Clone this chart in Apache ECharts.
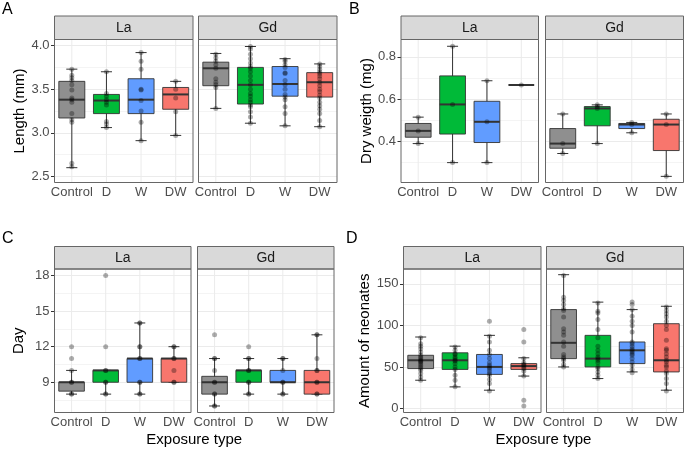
<!DOCTYPE html>
<html>
<head>
<meta charset="utf-8">
<title>Exposure type boxplots</title>
<script src="https://cdn.jsdelivr.net/npm/echarts@6/dist/echarts.min.js"></script>
<style>
  html, body { margin: 0; padding: 0; background: #fff; }
  #main { width: 685px; height: 449px; }
</style>
</head>
<body>
<div id="main"></div>
<script>
var groups = ['Control', 'D', 'W', 'DW'];
var facets = ['La', 'Gd'];
var groupColors = ['#8F8F8F', '#00BA38', '#619CFF', '#F8766D'];

// box stats per group: [min, Q1, median, Q3, max]
// A - length (mm)
var lengthLaBox = [[2.60, 3.17, 3.38, 3.59, 3.73], [3.06, 3.22, 3.37, 3.44, 3.70], [2.91, 3.22, 3.38, 3.62, 3.92], [2.97, 3.27, 3.44, 3.52, 3.59]];
var lengthGdBox = [[3.28, 3.54, 3.74, 3.81, 3.91], [3.11, 3.33, 3.55, 3.75, 3.99], [3.08, 3.42, 3.56, 3.76, 3.85], [3.07, 3.41, 3.58, 3.69, 3.79]];
var lengthLaPts = [
  [2.61, 2.65, 3.12, 3.15, 3.22, 3.35, 3.38, 3.40, 3.49, 3.55, 3.60, 3.63, 3.66, 3.73],
  [3.06, 3.10, 3.13, 3.32, 3.35, 3.38, 3.42, 3.45, 3.70],
  [2.91, 3.12, 3.25, 3.37, 3.49, 3.50, 3.73, 3.82, 3.92],
  [2.97, 3.24, 3.40, 3.50, 3.59]
];
var lengthGdPts = [
  [3.28, 3.52, 3.55, 3.58, 3.62, 3.74, 3.78, 3.82, 3.86, 3.90],
  [3.11, 3.18, 3.24, 3.30, 3.32, 3.35, 3.38, 3.42, 3.45, 3.50, 3.55, 3.60, 3.65, 3.70, 3.74, 3.76, 3.80, 3.85, 3.90, 3.96, 3.99],
  [3.08, 3.22, 3.30, 3.38, 3.41, 3.44, 3.50, 3.55, 3.60, 3.68, 3.69, 3.75, 3.78, 3.82, 3.84],
  [3.07, 3.14, 3.22, 3.27, 3.31, 3.35, 3.40, 3.43, 3.47, 3.50, 3.54, 3.58, 3.62, 3.65, 3.68, 3.70, 3.73, 3.76, 3.79]
];

// B - dry weight (mg)
var weightLaBox = [[0.39, 0.42, 0.45, 0.485, 0.515], [0.30, 0.435, 0.575, 0.71, 0.85], [0.30, 0.395, 0.493, 0.59, 0.687], [0.667, 0.667, 0.667, 0.667, 0.667]];
var weightGdBox = [[0.343, 0.368, 0.39, 0.461, 0.53], [0.39, 0.474, 0.556, 0.565, 0.573], [0.441, 0.461, 0.48, 0.485, 0.49], [0.235, 0.357, 0.48, 0.505, 0.53]];
var weightLaPts = [[0.39, 0.45, 0.515], [0.30, 0.575, 0.85], [0.30, 0.493, 0.687], [0.667]];
var weightGdPts = [[0.343, 0.39, 0.53], [0.39, 0.556, 0.565, 0.573], [0.441, 0.48, 0.49], [0.235, 0.48, 0.53]];

// C - day
var dayLaBox = [[8, 8.25, 9, 9, 10], [8, 9, 10, 10, 10], [8, 9, 11, 11, 14], [9, 9, 11, 11, 12]];
var dayGdBox = [[7, 8, 9, 9.5, 11], [8, 9, 10, 10, 11], [8, 9, 9, 10, 11], [8, 8, 9, 10, 13]];
var dayLaPts = [[8, 8, 9, 9, 10, 11, 12], [8, 8, 9, 9, 10, 10, 12, 18], [8, 8, 9, 9, 11, 11, 12, 12, 14, 14], [9, 9, 10, 11, 11, 12, 12]];
var dayGdPts = [[7, 7, 8, 8, 9, 9, 10, 11, 11, 13], [8, 8, 9, 9, 10, 10, 11, 11, 12], [8, 8, 9, 9, 10, 11, 11], [8, 8, 9, 9, 10, 10, 11, 13, 13]];

// D - amount of neonates
var neonateLaBox = [[34, 48, 58, 64, 86], [26, 47, 58, 67, 75], [22, 41, 50, 65, 88], [39, 47, 51, 54, 61]];
var neonateGdBox = [[50, 60, 79, 119, 161], [36, 50, 60, 88, 128], [44, 54, 70, 80, 119], [22, 44, 58, 102, 123]];
var neonateLaPts = [
  [34, 38, 42, 46, 48, 50, 52, 54, 56, 57, 58, 60, 62, 64, 68, 72, 75, 78, 85],
  [26, 34, 40, 47, 50, 54, 57, 58, 60, 62, 65, 66, 70, 74],
  [21, 30, 35, 40, 42, 45, 48, 50, 52, 55, 60, 65, 70, 80, 87, 105],
  [3, 10, 39, 45, 48, 50, 52, 53, 55, 60, 80, 95]
];
var neonateGdPts = [
  [50, 53, 58, 60, 62, 65, 75, 80, 88, 92, 96, 110, 118, 120, 125, 130, 134, 160],
  [36, 40, 44, 48, 50, 55, 58, 60, 62, 66, 70, 75, 85, 95, 107, 115, 117, 127],
  [43, 47, 52, 56, 60, 64, 66, 68, 70, 72, 75, 78, 80, 92, 100, 105, 111, 119, 125, 128],
  [21, 30, 36, 42, 45, 50, 52, 56, 58, 62, 66, 70, 72, 82, 95, 100, 105, 110, 114, 118, 122]
];

// panel layout (pixels) and which arrays go where
var panels = [
  { letter: 'A', yName: 'Length (mm)', min: 2.43, max: 4.07, split: 3, digits: 1, nameGap: 27,
    top: 39.5, bottom: 182.5, stripTop: 16, cols: [[54.5, 193], [198.5, 337]], letterAt: [2, 10],
    boxes: [lengthLaBox, lengthGdBox], points: [lengthLaPts, lengthGdPts] },
  { letter: 'B', yName: 'Dry weigth (mg)', min: 0.206, max: 0.882, split: 3, digits: 1, nameGap: 27,
    top: 39.5, bottom: 182.5, stripTop: 16, cols: [[401, 538.5], [545.5, 683.5]], letterAt: [349, 10],
    boxes: [weightLaBox, weightGdBox], points: [weightLaPts, weightGdPts] },
  { letter: 'C', yName: 'Day', min: 6.45, max: 18.55, split: 4, digits: 0, nameGap: 28,
    top: 269, bottom: 412.5, stripTop: 246.5, cols: [[54.5, 191], [197.5, 334]], letterAt: [2, 239], xName: 'Exposure type',
    boxes: [dayLaBox, dayGdBox], points: [dayLaPts, dayGdPts] },
  { letter: 'D', yName: 'Amount of neonates', min: -4.85, max: 167.85, split: 3, digits: 0, nameGap: 31,
    top: 269, bottom: 412.5, stripTop: 246.5, cols: [[403.5, 541], [546.5, 683.5]], letterAt: [346, 239], xName: 'Exposure type',
    boxes: [neonateLaBox, neonateGdBox], points: [neonateLaPts, neonateGdPts] }
];

var FONT = '"Liberation Sans", Arial, Helvetica, sans-serif';
var INK = '#333333';

// thin filled bar used for every horizontal/vertical stroke of a box
function bar(x, y, w, h) {
  return { type: 'rect', shape: { x: x, y: y, width: w, height: h }, style: { fill: INK, stroke: null } };
}

function renderBox(params, api) {
  var g = api.value(0);
  var lo = api.coord([g, api.value(1)]);
  var q1 = api.coord([g, api.value(2)]);
  var md = api.coord([g, api.value(3)]);
  var q3 = api.coord([g, api.value(4)]);
  var hi = api.coord([g, api.value(5)]);
  var band = api.size([1, 0])[0];
  var bw = band * 0.75, cw = band * 0.32;
  var cx = md[0];
  var cs = params.coordSys;
  var kids = [
    // vertical major grid line at the category
    { type: 'rect', shape: { x: cx - 0.5, y: cs.y, width: 1, height: cs.height }, style: { fill: '#EBEBEB', stroke: null } }
  ];
  if (lo[1] - hi[1] > 0.5) {
    kids.push(bar(cx - 0.5, hi[1], 1, lo[1] - hi[1]));
    kids.push(bar(cx - cw / 2, lo[1] - 0.5, cw, 1));
    kids.push(bar(cx - cw / 2, hi[1] - 0.5, cw, 1));
  }
  if (q1[1] - q3[1] > 0.5) {
    kids.push({ type: 'rect', shape: { x: cx - bw / 2, y: q3[1], width: bw, height: q1[1] - q3[1] },
      style: { fill: groupColors[g], stroke: INK, lineWidth: 0.9 } });
  }
  kids.push(bar(cx - bw / 2, md[1] - 1, bw, 2));
  return { type: 'group', children: kids };
}

var grids = [], xAxes = [], yAxes = [], series = [], graphics = [];

panels.forEach(function (p) {
  p.cols.forEach(function (c, f) {
    var i = grids.length;
    grids.push({ left: c[0], top: p.top, width: c[1] - c[0], height: p.bottom - p.top, containLabel: false });
    xAxes.push({
      type: 'category', gridIndex: i, data: groups,
      axisLine: { show: false },
      axisTick: { alignWithLabel: true, length: 3.5, lineStyle: { color: '#333' } },
      axisLabel: { color: '#4D4D4D', fontSize: 13, margin: 3, interval: 0, fontFamily: FONT },
      splitLine: { show: false }
    });
    yAxes.push({
      type: 'value', gridIndex: i, min: p.min, max: p.max, splitNumber: p.split,
      name: f === 0 ? p.yName : '', nameLocation: 'middle', nameGap: p.nameGap, nameRotate: 90,
      nameTextStyle: { color: '#000', fontSize: 15, fontFamily: FONT },
      axisLine: { show: false },
      axisTick: { show: f === 0, length: 3.5, lineStyle: { color: '#333' } },
      axisLabel: {
        show: f === 0, color: '#4D4D4D', fontSize: 13, margin: 5, fontFamily: FONT,
        showMinLabel: false, showMaxLabel: false,
        formatter: function (v) { return v.toFixed(p.digits); }
      },
      splitLine: { show: true, lineStyle: { color: '#EBEBEB', width: 1 } },
      minorTick: { show: false, splitNumber: 2 },
      minorSplitLine: { show: true, lineStyle: { color: '#F4F4F4', width: 1 } }
    });
    series.push({
      type: 'custom', xAxisIndex: i, yAxisIndex: i, renderItem: renderBox, silent: true,
      emphasis: { disabled: true }, clip: false,
      encode: { x: 0, y: [1, 2, 3, 4, 5] },
      data: p.boxes[f].map(function (b, g) { return [g].concat(b); })
    });
    var pts = [];
    p.points[f].forEach(function (vals, g) {
      vals.forEach(function (v) { pts.push([g, v]); });
    });
    series.push({
      type: 'scatter', xAxisIndex: i, yAxisIndex: i, symbolSize: 5, z: 3, silent: true,
      emphasis: { disabled: true },
      itemStyle: { color: 'rgba(0,0,0,0.4)' }, data: pts
    });
    // facet strip + panel border
    graphics.push({
      type: 'rect', z: 50, silent: true, shape: { x: c[0], y: p.stripTop, width: c[1] - c[0], height: p.top - p.stripTop },
      style: { fill: '#D9D9D9', stroke: '#666', lineWidth: 1 }
    });
    graphics.push({
      type: 'text', z: 51, silent: true, x: (c[0] + c[1]) / 2, y: (p.stripTop + p.top) / 2 + 0.5,
      style: { text: facets[f], fill: '#1A1A1A', font: '14px ' + FONT, textAlign: 'center', textVerticalAlign: 'middle' }
    });
    graphics.push({
      type: 'rect', z: 50, silent: true, shape: { x: c[0], y: p.top, width: c[1] - c[0], height: p.bottom - p.top },
      style: { fill: 'none', stroke: '#666', lineWidth: 1 }
    });
  });
  graphics.push({
    type: 'text', z: 51, x: p.letterAt[0], y: p.letterAt[1],
    style: { text: p.letter, fill: '#000', font: '16px ' + FONT, textAlign: 'left', textVerticalAlign: 'middle' }
  });
  if (p.xName) {
    graphics.push({
      type: 'text', z: 51, x: (p.cols[0][0] + p.cols[1][1]) / 2, y: 440,
      style: { text: p.xName, fill: '#000', font: '15px ' + FONT, textAlign: 'center', textVerticalAlign: 'middle' }
    });
  }
});

var chart = echarts.init(document.getElementById('main'), null, { renderer: 'canvas' });
chart.setOption({
  animation: false,
  backgroundColor: '#fff',
  textStyle: { fontFamily: FONT },
  grid: grids,
  xAxis: xAxes,
  yAxis: yAxes,
  series: series,
  graphic: graphics
});
</script>
</body>
</html>
